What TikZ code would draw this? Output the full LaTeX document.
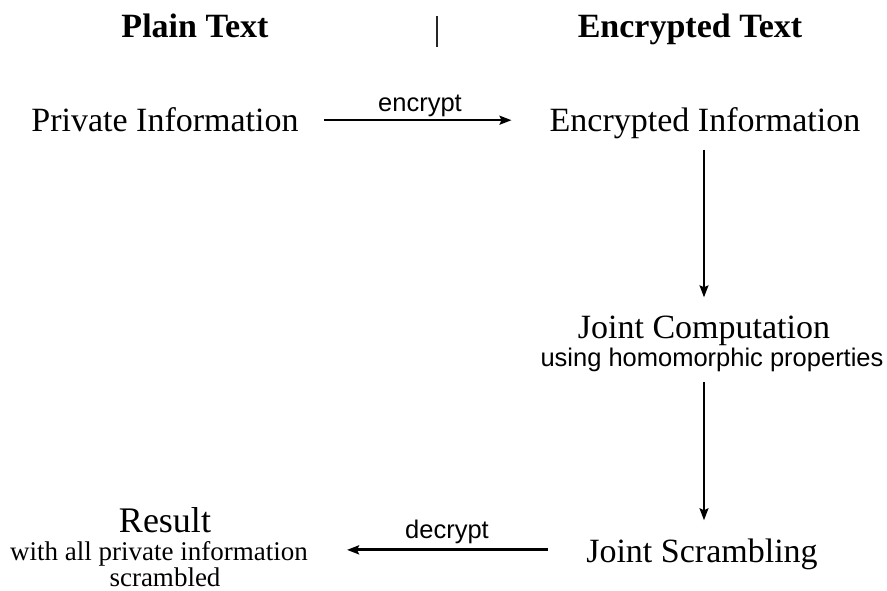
\documentclass[tikz,border=0pt]{standalone}
\usepackage{fontspec}
\setmainfont{Liberation Serif}
\setsansfont{Liberation Sans}
\usetikzlibrary{arrows.meta}
\tikzset{
  head/.style={font=\bfseries\fontsize{34}{40}\selectfont, inner sep=0pt, anchor=base},
  main/.style={font=\fontsize{34}{40}\selectfont, inner sep=0pt, anchor=base},
  small/.style={font=\fontsize{27}{32}\selectfont, inner sep=0pt, anchor=base},
  lab/.style={font=\sffamily\fontsize{25.5}{30}\selectfont, inner sep=0pt, anchor=base},
  conn/.style={-{Stealth[length=12pt,width=9pt,inset=2pt]}, line width=2pt, black},
}
\begin{document}
\begin{tikzpicture}[x=1pt,y=-1pt]
\useasboundingbox[fill=white] (0,0) rectangle (887,591);
% headings
\node[head] (pt) at (195,38) {Plain Text};
\node[head] (et) at (690,38) {Encrypted Text};
\coordinate (bart) at (437,16);
\coordinate (barb) at (437,47);
\draw[line width=1.3pt, black!85] (bart) -- (barb);
% nodes
\node[main] (pi) at (165,132) {Private Information};
\node[main] (ei) at (705,132) {Encrypted Information};
\node[main] (jc) at (704,338) {Joint Computation};
\node[lab] (hp) at (712,366) {using homomorphic properties};
\node[main] (js) at (702,562) {Joint Scrambling};
\node[font=\fontsize{36}{40}\selectfont, inner sep=0pt, anchor=base] (res) at (165,532) {Result};
\node[small] (wa) at (159,560) {with all private information};
\node[small] (sc) at (165,586) {scrambled};
% labels
\node[lab] (enc) at (420,112) {encrypt};
\node[lab] (dec) at (447,538) {decrypt};
% connectors
\draw[conn, shorten <=25pt, shorten >=38pt] (pi.east) -- (pi.east -| ei.west);
\draw[conn, line width=1.5pt, shorten <=10pt, shorten >=18pt] ([xshift=-1pt]ei.south) -- ([xshift=-1pt]ei.south |- jc.north);
\draw[conn, line width=1.5pt, shorten <=11pt, shorten >=18pt] ([xshift=-8pt]hp.south) -- ([xshift=-8pt]hp.south |- js.north);
\draw[conn, line width=3pt, shorten <=38pt, shorten >=39pt] ([yshift=4pt]js.west) -- ([yshift=4pt]js.west -| wa.east);
\end{tikzpicture}
\end{document}
